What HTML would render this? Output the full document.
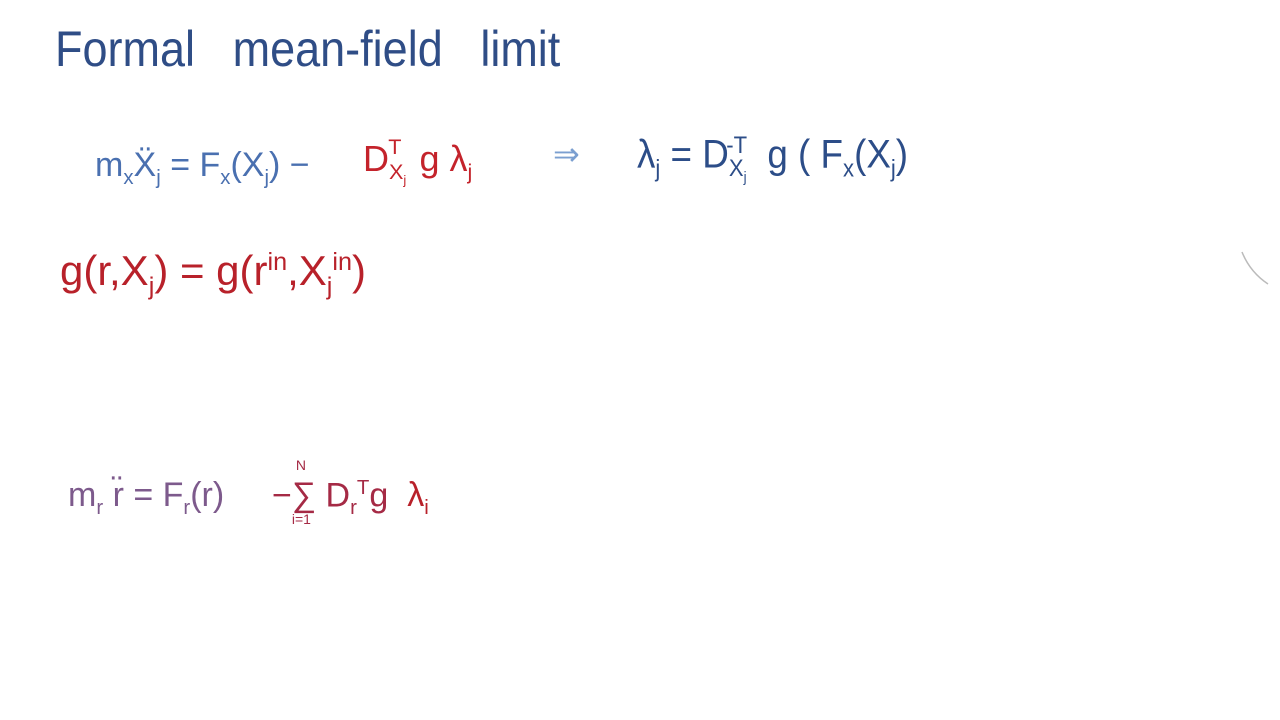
<!DOCTYPE html>
<html><head><meta charset="utf-8"><style>
body{margin:0;width:1280px;height:720px;background:#fff;position:relative;overflow:hidden;font-family:"Liberation Sans",sans-serif}
.t{position:absolute;white-space:nowrap;line-height:1;transform-origin:0 0}
sub,sup{font-size:60%}
</style></head><body>
<div class="t" style="left:55px;top:24px;font-size:50px;color:#2f4d86;transform:scaleX(0.9);word-spacing:7px">Formal&nbsp; mean-field&nbsp; limit</div>

<div class="t" style="left:95px;top:148px;font-size:34px;color:#4a70b0">m<sub>x</sub>Ẍ<sub>j</sub> = F<sub>x</sub>(X<sub>j</sub>) −</div>
<div class="t" style="left:363px;top:140px;font-size:36px;color:#c4232b">D<sub>X<sub>j</sub></sub><sup style="position:relative;left:-18px;top:-4px">T</sup>g&nbsp;λ<sub>j</sub></div>
<div class="t" style="left:553px;top:138px;font-size:32px;color:#7b9fd0">⇒</div>
<div class="t" style="left:637px;top:134px;font-size:40px;color:#2c4d88;transform:scaleX(0.92)">λ<sub>j</sub> = D<sub>X<sub>j</sub></sub><sup style="position:relative;left:-22px">-T</sup>g ( F<sub>x</sub>(X<sub>j</sub>)</div>

<div class="t" style="left:60px;top:250px;font-size:42px;color:#b8212a">g(r,X<sub>j</sub>) = g(r<sup>in</sup>,X<sub>j</sub><sup>in</sup>)</div>

<div class="t" style="left:68px;top:478px;font-size:34px;color:#7d5a8c">m<sub>r</sub> r̈ = F<sub>r</sub>(r)</div>
<div class="t" style="left:272px;top:478px;font-size:34px;color:#a52a45">−<span style="position:relative;display:inline-block">∑<span style="position:absolute;left:4px;top:-20px;font-size:14px">N</span><span style="position:absolute;left:0;top:34px;font-size:14px">i=1</span></span> D<sub>r</sub><sup>T</sup>g&nbsp; <span style="color:#b8212a">λ<sub>i</sub></span></div>

<svg width="1280" height="720" style="position:absolute;left:0;top:0">
<path d="M1242 252 Q1250 272 1268 284" stroke="#bbb" stroke-width="1.5" fill="none"/>
</svg>
</body></html>
